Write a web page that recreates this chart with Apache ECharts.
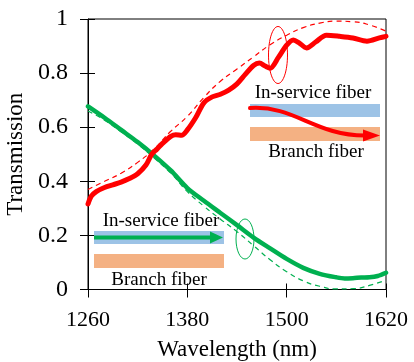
<!DOCTYPE html>
<html>
<head>
<meta charset="utf-8">
<script src="https://cdn.jsdelivr.net/npm/echarts@6/dist/echarts.min.js"></script>
<style>
  html, body { margin: 0; padding: 0; background: #fff; }
  #chart { width: 414px; height: 362px; }
</style>
</head>
<body>
<div id="chart"></div>
<script>
// Axis ticks
const xTickValues = [1260, 1380, 1500, 1620];
const xTickLabels = ['1260', '1380', '1500', '1620'];
const yTickValues = [0, 0.2, 0.4, 0.6, 0.8, 1];
const yTickLabels = ['0', '0.2', '0.4', '0.6', '0.8', '1'];

// Measured transmission to the branch fiber (red)
const redWl = [1260, 1264, 1270, 1280, 1290, 1300, 1310, 1320, 1330, 1337, 1343, 1350, 1360, 1366, 1373, 1380,
               1390, 1400, 1410, 1420, 1430, 1440, 1450, 1460, 1467, 1474, 1480, 1490, 1500, 1508, 1515,
               1524, 1535, 1548, 1564, 1580, 1597, 1612, 1620];
const redT  = [0.316, 0.345, 0.362, 0.377, 0.387, 0.397, 0.41, 0.428, 0.46, 0.5, 0.518, 0.54, 0.566, 0.572, 0.57, 0.59,
               0.635, 0.69, 0.712, 0.722, 0.737, 0.76, 0.795, 0.828, 0.837, 0.826, 0.818, 0.858, 0.903, 0.922, 0.912,
               0.893, 0.915, 0.94, 0.936, 0.93, 0.918, 0.93, 0.936];

// Measured transmission in the in-service fiber (green)
const greenWl = [1260, 1280, 1300, 1320, 1340, 1360, 1380, 1400, 1420, 1440, 1460, 1480, 1500, 1520, 1540,
                 1560, 1570, 1580, 1590, 1600, 1610, 1620];
const greenT  = [0.677, 0.635, 0.59, 0.545, 0.495, 0.44, 0.375, 0.328, 0.283, 0.238, 0.192, 0.152, 0.113, 0.08, 0.058,
                 0.045, 0.041, 0.042, 0.044, 0.045, 0.05, 0.062];

// Calculated curves (dashed)
const theoryWl     = [1260, 1280, 1300, 1320, 1340, 1360, 1380, 1400, 1420, 1440, 1460, 1480, 1500, 1520, 1540,
                      1560, 1580, 1600, 1620];
const redTheoryT   = [0.37, 0.4, 0.43, 0.47, 0.52, 0.585, 0.64, 0.71, 0.77, 0.815, 0.86, 0.905, 0.94, 0.968, 0.985,
                      0.992, 0.99, 0.978, 0.955];
const greenTheoryT = [0.66, 0.626, 0.583, 0.537, 0.486, 0.43, 0.362, 0.308, 0.26, 0.214, 0.162, 0.11, 0.066, 0.032, 0.012,
                      0.002, 0.003, 0.015, 0.035];

const pairs = (xs, ys) => xs.map((x, i) => [x, ys[i]]);

const RED = '#ff0000';
const GREEN = '#00b050';
const BLUE_BAR = '#9dc3e6';
const ORANGE_BAR = '#f4b183';
const FONT = '"Liberation Serif", "Times New Roman", serif';

const chart = echarts.init(document.getElementById('chart'), null, { renderer: 'canvas' });

const xLabel = v => xTickLabels[xTickValues.indexOf(v)] ?? '';
const yLabel = v => {
  const i = yTickValues.findIndex(t => Math.abs(t - v) < 1e-6);
  return i >= 0 ? yTickLabels[i] : '';
};

const baseX = { type: 'value', min: 1260, max: 1620, interval: 120, position: 'bottom', splitLine: { show: false } };
const baseY = { type: 'value', min: 0, max: 1, interval: 0.2, position: 'left', splitLine: { show: false } };

chart.setOption({
  animation: false,
  backgroundColor: '#fff',
  grid: {
    left: 88, right: 28, top: 19, bottom: 72.5,
    outerBoundsMode: 'none', containLabel: false,
    show: true, borderColor: '#000', borderWidth: 1
  },
  xAxis: [
    Object.assign({}, baseX, {
      name: 'Wavelength (nm)', nameLocation: 'middle', nameGap: 49,
      nameTextStyle: { fontFamily: FONT, fontSize: 23, color: '#000' },
      axisLine: { show: true, lineStyle: { color: '#000', width: 1 } },
      axisTick: { show: true, inside: false, length: 8, lineStyle: { color: '#000' } },
      axisLabel: { show: true, margin: 20, formatter: xLabel, fontFamily: FONT, fontSize: 22, color: '#000' }
    }),
    Object.assign({}, baseX, {
      axisLine: { show: false },
      axisTick: { show: true, inside: true, length: 6, lineStyle: { color: '#000' } },
      axisLabel: { show: false }
    })
  ],
  yAxis: [
    Object.assign({}, baseY, {
      name: 'Transmission', nameLocation: 'middle', nameGap: 58, nameRotate: 90,
      nameTextStyle: { fontFamily: FONT, fontSize: 23, color: '#000' },
      axisLine: { show: true, lineStyle: { color: '#000', width: 1 } },
      axisTick: { show: true, inside: false, length: 8, lineStyle: { color: '#000' } },
      axisLabel: { show: true, margin: 20, formatter: yLabel, fontFamily: FONT, fontSize: 24, color: '#000' }
    }),
    Object.assign({}, baseY, {
      axisLine: { show: false },
      axisTick: { show: true, inside: true, length: 7, lineStyle: { color: '#000' } },
      axisLabel: { show: false }
    })
  ],
  series: [
    {
      name: 'Branch (calc.)', type: 'line', data: pairs(theoryWl, redTheoryT), smooth: true,
      showSymbol: false, clip: false, z: 2,
      lineStyle: { color: RED, width: 1.2, type: [5, 4] }
    },
    {
      name: 'In-service (calc.)', type: 'line', data: pairs(theoryWl, greenTheoryT), smooth: true,
      showSymbol: false, clip: false, z: 2,
      lineStyle: { color: GREEN, width: 1.2, type: [5, 4] }
    },
    {
      name: 'In-service (meas.)', type: 'line', data: pairs(greenWl, greenT), smooth: 0.3,
      showSymbol: false, clip: false, z: 3,
      lineStyle: { color: GREEN, width: 4.5, cap: 'round', join: 'round' }
    },
    {
      name: 'Branch (meas.)', type: 'line', data: pairs(redWl, redT), smooth: 0.3,
      showSymbol: false, clip: false, z: 4,
      lineStyle: { color: RED, width: 5, cap: 'round', join: 'round' }
    }
  ],
  graphic: [
    // inset: branch port (upper right)
    { type: 'text', z: 10, style: { text: 'In-service fiber', x: 313, y: 93, align: 'center', verticalAlign: 'middle', font: '19px ' + FONT, fill: '#000' } },
    { type: 'rect', z: 10, shape: { x: 250, y: 104, width: 130, height: 13 }, style: { fill: BLUE_BAR } },
    { type: 'rect', z: 10, shape: { x: 250, y: 127, width: 130, height: 14 }, style: { fill: ORANGE_BAR } },
    { type: 'text', z: 10, style: { text: 'Branch fiber', x: 316, y: 152, align: 'center', verticalAlign: 'middle', font: '19px ' + FONT, fill: '#000' } },
    { type: 'bezierCurve', z: 11, shape: { x1: 250, y1: 108, cpx1: 295, cpy1: 105, cpx2: 315, cpy2: 136, x2: 366, y2: 135.5 },
      style: { stroke: RED, lineWidth: 4, fill: null, lineCap: 'round' } },
    { type: 'polygon', z: 11, shape: { points: [[363, 129.5], [380, 135.5], [363, 141.5]] }, style: { fill: RED } },
    { type: 'ellipse', z: 11, shape: { cx: 278, cy: 55, rx: 9.5, ry: 28.5 }, style: { stroke: RED, lineWidth: 1, fill: null } },

    // inset: through port (lower left)
    { type: 'text', z: 10, style: { text: 'In-service fiber', x: 161, y: 221, align: 'center', verticalAlign: 'middle', font: '19px ' + FONT, fill: '#000' } },
    { type: 'rect', z: 10, shape: { x: 94, y: 231, width: 130, height: 13 }, style: { fill: BLUE_BAR } },
    { type: 'rect', z: 10, shape: { x: 94, y: 254, width: 130, height: 14 }, style: { fill: ORANGE_BAR } },
    { type: 'text', z: 10, style: { text: 'Branch fiber', x: 159, y: 280, align: 'center', verticalAlign: 'middle', font: '19px ' + FONT, fill: '#000' } },
    { type: 'line', z: 11, shape: { x1: 94, y1: 237.5, x2: 212, y2: 237.5 }, style: { stroke: GREEN, lineWidth: 4 } },
    { type: 'polygon', z: 11, shape: { points: [[210, 231.5], [223, 237.5], [210, 243.5]] }, style: { fill: GREEN } },
    { type: 'ellipse', z: 11, shape: { cx: 245, cy: 239, rx: 9, ry: 20 }, style: { stroke: GREEN, lineWidth: 1, fill: null } }
  ]
});
</script>
</body>
</html>
